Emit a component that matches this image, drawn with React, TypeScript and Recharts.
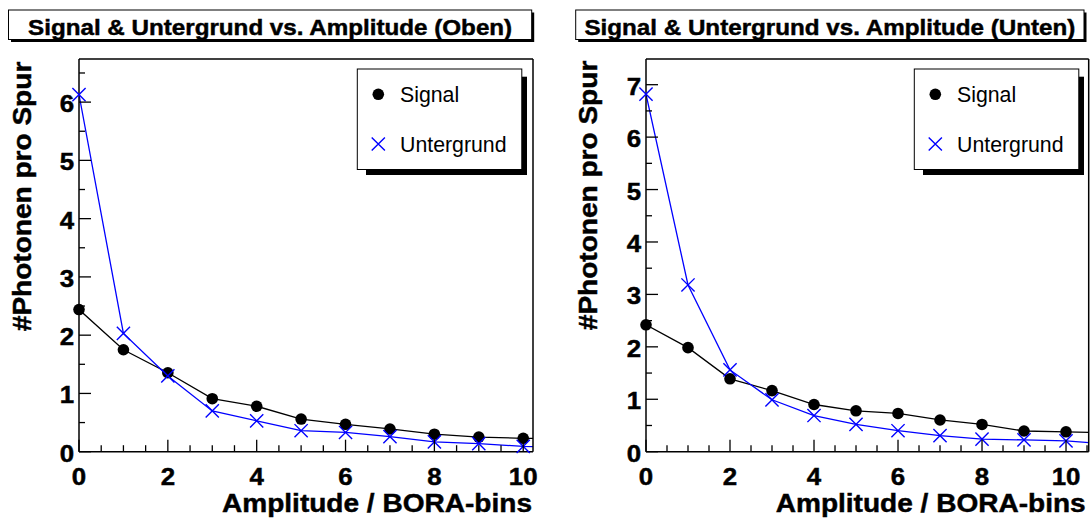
import React from 'react';
import { ComposedChart, Line, Scatter, XAxis, YAxis } from 'recharts';

// amplitude bins; bin 11 sits just right of the visible range, so the lines run into the frame
const amplitude = [0, 1, 2, 3, 4, 5, 6, 7, 8, 9, 10, 11];

const signalOben = [2.44, 1.75, 1.355, 0.91, 0.78, 0.56, 0.47, 0.39, 0.3, 0.25, 0.23, 0.22];
const untergrundOben = [6.13, 2.03, 1.3, 0.7, 0.53, 0.36, 0.33, 0.26, 0.17, 0.14, 0.09, 0.08];

const signalUnten = [2.42, 1.985, 1.39, 1.165, 0.9, 0.78, 0.73, 0.605, 0.52, 0.395, 0.38, 0.36];
const untergrundUnten = [6.82, 3.18, 1.56, 0.99, 0.69, 0.52, 0.4, 0.305, 0.24, 0.225, 0.205, 0.145];

const xTicks = [0, 0.5, 1, 1.5, 2, 2.5, 3, 3.5, 4, 4.5, 5, 5.5, 6, 6.5, 7, 7.5, 8, 8.5, 9, 9.5, 10, 10.5];
const xLabels = [0, 2, 4, 6, 8, 10];
const yTicksOben = [0, 0.5, 1, 1.5, 2, 2.5, 3, 3.5, 4, 4.5, 5, 5.5, 6, 6.5];
const yTicksUnten = [0, 0.5, 1, 1.5, 2, 2.5, 3, 3.5, 4, 4.5, 5, 5.5, 6, 6.5, 7];

const FONT = '"Liberation Sans", Arial, Helvetica, sans-serif';
const H = 519;

// ROOT's bold helvetica comes out ~10% wider (and a bit heavier) than Arial bold
function WideText({ x, y, size, anchor, rotate = 0, children }: any) {
  return (
    <text
      transform={`translate(${x},${y}) rotate(${rotate}) scale(1.1,1)`}
      fontSize={size}
      fontFamily={FONT}
      fontWeight={700}
      textAnchor={anchor}
      fill="#000"
      stroke="#000"
      strokeWidth={0.45}
    >
      {children}
    </text>
  );
}

const XTick = (props: any) => {
  const { x, y, payload } = props;
  const v = payload.value;
  const major = xLabels.includes(v);
  return (
    <g>
      <line x1={x} x2={x} y1={y} y2={y - (major ? 12 : 6.5)} stroke="#000" strokeWidth={1.3} />
      {major && (
        <WideText x={x} y={y + 33.3} size={23.5} anchor="middle">
          {v}
        </WideText>
      )}
    </g>
  );
};

const YTick = (props: any) => {
  const { x, y, payload } = props;
  const v = payload.value;
  const major = Number.isInteger(v);
  return (
    <g>
      <line x1={x} x2={x + (major ? 12 : 6)} y1={y} y2={y} stroke="#000" strokeWidth={1.3} />
      {major && (
        <WideText x={x - 5} y={y + 10} size={23.5} anchor="end">
          {v}
        </WideText>
      )}
    </g>
  );
};

const SignalDot = (props: any) => <circle cx={props.cx} cy={props.cy} r={5.8} fill="#000" />;

const CrossDot = (props: any) => {
  const { cx, cy } = props;
  const s = 6.6;
  return (
    <path
      d={`M${cx - s},${cy - s}L${cx + s},${cy + s}M${cx - s},${cy + s}L${cx + s},${cy - s}`}
      stroke="#0000ff"
      strokeWidth={1.4}
      fill="none"
    />
  );
};

interface PanelProps {
  left: number;
  width: number;
  plot: { left: number; right: number; top: number; bottom: number };
  xMax: number;
  yMax: number;
  yTicks: number[];
  signal: number[];
  untergrund: number[];
}

function Panel({ left, width, plot, xMax, yMax, yTicks, signal, untergrund }: PanelProps) {
  const sig = amplitude.map((x, i) => ({ x, y: signal[i] }));
  const bkg = amplitude.map((x, i) => ({ x, y: untergrund[i] }));
  const inside = (p: { x: number }) => p.x <= xMax;

  // axes are 1px thick bands around the plot area (zero-size axes are not drawn)
  return (
    <div style={{ position: 'absolute', left, top: 0 }}>
      <ComposedChart
        width={width}
        height={H}
        margin={{
          top: plot.top - 1,
          bottom: H - plot.bottom - 1,
          left: plot.left - left - 1,
          right: left + width - plot.right - 1,
        }}
      >
        <XAxis
          xAxisId="main"
          dataKey="x"
          type="number"
          domain={[0, xMax]}
          ticks={xTicks.filter((t) => t <= xMax)}
          interval={0}
          height={1}
          tickSize={0}
          tickMargin={0}
          tickLine={false}
          tick={<XTick />}
          axisLine={{ stroke: '#000', strokeWidth: 1.5 }}
        />
        <XAxis
          xAxisId="clip"
          dataKey="x"
          type="number"
          orientation="top"
          domain={[0, xMax]}
          allowDataOverflow
          height={1}
          tick={false}
          tickLine={false}
          axisLine={{ stroke: '#000', strokeWidth: 1.5 }}
        />
        <YAxis
          dataKey="y"
          type="number"
          domain={[0, yMax]}
          ticks={yTicks}
          interval={0}
          width={1}
          tickSize={0}
          tickMargin={0}
          tickLine={false}
          tick={<YTick />}
          axisLine={{ stroke: '#000', strokeWidth: 1.5 }}
        />
        <YAxis
          yAxisId="frame"
          type="number"
          orientation="right"
          domain={[0, yMax]}
          width={1}
          tick={false}
          tickLine={false}
          axisLine={{ stroke: '#000', strokeWidth: 1.5 }}
        />
        <Line
          xAxisId="clip"
          data={sig}
          dataKey="y"
          stroke="#000"
          strokeWidth={1.3}
          dot={false}
          activeDot={false}
          isAnimationActive={false}
        />
        <Line
          xAxisId="clip"
          data={bkg}
          dataKey="y"
          stroke="#0000ff"
          strokeWidth={1.3}
          dot={false}
          activeDot={false}
          isAnimationActive={false}
        />
        <Scatter
          xAxisId="main"
          data={sig.filter(inside)}
          dataKey="y"
          shape={<SignalDot />}
          isAnimationActive={false}
        />
        <Scatter
          xAxisId="main"
          data={bkg.filter(inside)}
          dataKey="y"
          shape={<CrossDot />}
          isAnimationActive={false}
        />
      </ComposedChart>
    </div>
  );
}

function TitleBox({ x, w, text }: { x: number; w: number; text: string }) {
  return (
    <g>
      <rect x={x + 2.5} y={12.5} width={w} height={29.5} fill="#000" />
      <rect x={x} y={10} width={w} height={29.5} fill="#fff" stroke="#000" strokeWidth={1} />
      <WideText x={x + w / 2} y={35.2} size={22} anchor="middle">
        {text}
      </WideText>
    </g>
  );
}

function LegendBox({ x }: { x: number }) {
  const y = 69;
  return (
    <g>
      <rect x={x + 8.7} y={y + 7.7} width={161} height={98.3} fill="#000" />
      <rect x={x} y={y} width={164.5} height={100.5} fill="#fff" stroke="#000" strokeWidth={1} />
      <SignalDot cx={x + 21} cy={94.3} />
      <text x={x + 42.7} y={101.7} fontSize={21.3} fontFamily={FONT} fill="#000">
        Signal
      </text>
      <CrossDot cx={x + 21} cy={144} />
      <text x={x + 42.7} y={151.5} fontSize={21.3} fontFamily={FONT} fill="#000">
        Untergrund
      </text>
    </g>
  );
}

export default function App() {
  const oben = { left: 79, right: 533, top: 59, bottom: 451.7 };
  const unten = { left: 646, right: 1088.7, top: 59, bottom: 451.7 };
  return (
    <div style={{ position: 'absolute', left: 0, top: 0, width: 1091, height: H, background: '#fff' }}>
      <Panel
        left={0}
        width={545}
        plot={oben}
        xMax={10.22}
        yMax={6.74}
        yTicks={yTicksOben}
        signal={signalOben}
        untergrund={untergrundOben}
      />
      <Panel
        left={545}
        width={546}
        plot={unten}
        xMax={10.54}
        yMax={7.49}
        yTicks={yTicksUnten}
        signal={signalUnten}
        untergrund={untergrundUnten}
      />
      <svg
        width={1091}
        height={H}
        style={{ position: 'absolute', left: 0, top: 0, pointerEvents: 'none' }}
      >
        <TitleBox x={8.5} w={523.2} text="Signal & Untergrund vs. Amplitude (Oben)" />
        <TitleBox x={575.7} w={508.3} text="Signal & Untergrund vs. Amplitude (Unten)" />
        <LegendBox x={357.3} />
        <LegendBox x={914.3} />
        <WideText x={oben.right - 1} y={511.7} size={25.5} anchor="end">
          Amplitude / BORA-bins
        </WideText>
        <WideText x={unten.right - 3} y={511.7} size={25.5} anchor="end">
          Amplitude / BORA-bins
        </WideText>
        <WideText x={31} y={oben.top + 2.7} size={25.5} anchor="end" rotate={-90}>
          #Photonen pro Spur
        </WideText>
        <WideText x={597} y={unten.top + 1.7} size={25.5} anchor="end" rotate={-90}>
          #Photonen pro Spur
        </WideText>
      </svg>
    </div>
  );
}
